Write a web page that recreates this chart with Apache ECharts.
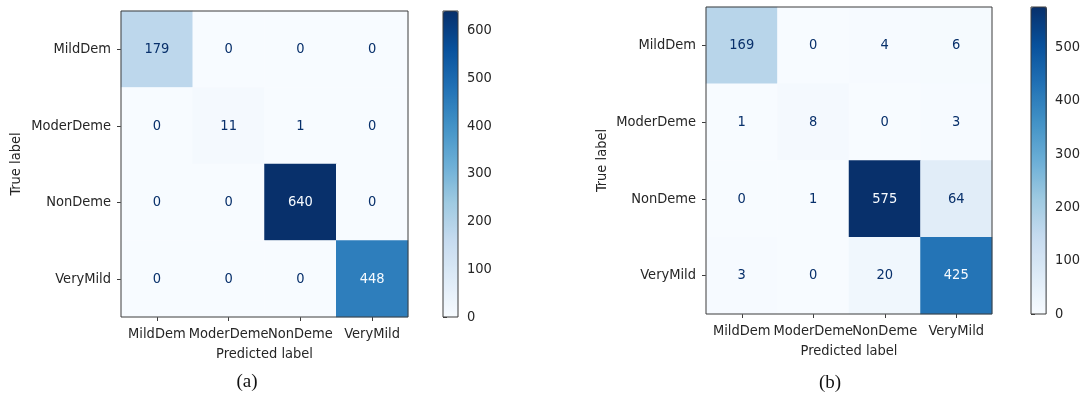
<!DOCTYPE html>
<html>
<head>
<meta charset="utf-8">
<script src="https://cdn.jsdelivr.net/npm/echarts@6/dist/echarts.min.js"></script>
<style>
  html, body { margin: 0; padding: 0; background: #ffffff; }
  #chart { width: 1083px; height: 396px; }
</style>
</head>
<body>
<div id="chart"></div>
<script>
// Class names (rows = true label, columns = predicted label)
const classes = ['MildDem', 'ModerDeme', 'NonDeme', 'VeryMild'];

// Confusion matrix counts, panel (a)
const matrixA = [
  [179, 0, 0, 0],
  [0, 11, 1, 0],
  [0, 0, 640, 0],
  [0, 0, 0, 448]
];

// Confusion matrix counts, panel (b)
const matrixB = [
  [169, 0, 4, 6],
  [1, 8, 0, 3],
  [0, 1, 575, 64],
  [3, 0, 20, 425]
];

// Colour bar tick values
const barTicksA = [0, 100, 200, 300, 400, 500, 600];
const barTicksB = [0, 100, 200, 300, 400, 500];

// Panel captions
const captions = ['(a)', '(b)'];

// "Blues" colour map stops
const blues = ['#f7fbff', '#deebf7', '#c6dbef', '#9ecae1', '#6baed6',
               '#4292c6', '#2171b5', '#08519c', '#08306b'];

const FONT = '"DejaVu Sans Condensed", "DejaVu Sans"';
const FS = 14.5;
const TEXT = '#262626';
const EDGE = '#3c3c3c';

function cells(matrix) {
  const flat = matrix.flat();
  const lo = Math.min(...flat), hi = Math.max(...flat);
  const thresh = (lo + hi) / 2;
  const out = [];
  matrix.forEach((row, i) => row.forEach((v, j) => {
    out.push({ value: [j, i, v], label: { color: v < thresh ? blues[8] : blues[0] } });
  }));
  return { data: out, max: hi };
}

const A = cells(matrixA);
const B = cells(matrixB);

// Layout of each panel: matrix area, colour bar area, caption anchor
const panels = [
  { cells: A, ticks: barTicksA, grid: { left: 121, top: 11, width: 287, height: 306 },
    bar: { left: 443, top: 11, width: 15, height: 306 }, cap: [247, 382], nameGap: 97 },
  { cells: B, ticks: barTicksB, grid: { left: 706, top: 7, width: 286, height: 307 },
    bar: { left: 1031, top: 7, width: 16, height: 307 }, cap: [830, 383], nameGap: 96 }
];

const option = {
  backgroundColor: '#ffffff',
  animation: false,
  grid: [], xAxis: [], yAxis: [], series: [], visualMap: [], graphic: []
};

panels.forEach((p, k) => {
  const gm = option.grid.length;
  option.grid.push(Object.assign({ show: true, z: 10, backgroundColor: 'transparent',
    borderColor: EDGE, borderWidth: 1 }, p.grid));
  option.grid.push(Object.assign({ show: true, z: 10, backgroundColor: 'transparent',
    borderColor: EDGE, borderWidth: 1 }, p.bar));

  // matrix axes
  option.xAxis.push({
    type: 'category', gridIndex: gm, data: classes,
    name: 'Predicted label', nameLocation: 'middle', nameGap: 29,
    nameTextStyle: { fontFamily: FONT, fontSize: FS, color: TEXT },
    axisLine: { show: false },
    axisTick: { show: true, alignWithLabel: true, length: 4, lineStyle: { color: EDGE } },
    axisLabel: { interval: 0, margin: 10, fontFamily: FONT, fontSize: FS, color: TEXT },
    splitLine: { show: false }
  });
  option.yAxis.push({
    type: 'category', gridIndex: gm, data: classes, inverse: true,
    name: 'True label', nameLocation: 'middle', nameGap: p.nameGap, nameRotate: 90,
    nameTextStyle: { fontFamily: FONT, fontSize: FS, color: TEXT },
    axisLine: { show: false },
    axisTick: { show: true, alignWithLabel: true, length: 4, lineStyle: { color: EDGE } },
    axisLabel: { interval: 0, margin: 10, fontFamily: FONT, fontSize: FS, color: TEXT },
    splitLine: { show: false }
  });

  // colour bar axes
  option.xAxis.push({ type: 'value', gridIndex: gm + 1, show: false, min: 0, max: 1 });
  option.yAxis.push({
    type: 'value', gridIndex: gm + 1, position: 'right', min: 0, max: p.cells.max,
    axisLine: { show: false },
    axisTick: { show: true, length: 4, lineStyle: { color: EDGE }, customValues: p.ticks },
    axisLabel: { margin: 9, fontFamily: FONT, fontSize: FS, color: TEXT, customValues: p.ticks },
    splitLine: { show: false }
  });

  const si = option.series.length;
  option.series.push({
    type: 'heatmap', xAxisIndex: gm, yAxisIndex: gm, data: p.cells.data,
    label: { show: true, fontFamily: FONT, fontSize: FS },
    emphasis: { disabled: true }
  });
  option.series.push({ type: 'scatter', xAxisIndex: gm + 1, yAxisIndex: gm + 1, data: [] });

  option.visualMap.push({
    type: 'continuous', seriesIndex: si, min: 0, max: p.cells.max,
    orient: 'vertical', left: p.bar.left, top: p.bar.top,
    itemWidth: p.bar.width, itemHeight: p.bar.height,
    padding: 0, calculable: false, hoverLink: false, text: null,
    showLabel: false, indicatorSize: 0, inRange: { color: blues }
  });

  option.graphic.push({
    type: 'text', x: p.cap[0], y: p.cap[1],
    style: { text: captions[k], fontFamily: '"Liberation Serif"', fontSize: 19,
      fill: '#111', textAlign: 'center', textVerticalAlign: 'middle' }
  });
});

const chart = echarts.init(document.getElementById('chart'), null, { renderer: 'canvas' });
chart.setOption(option);
</script>
</body>
</html>
